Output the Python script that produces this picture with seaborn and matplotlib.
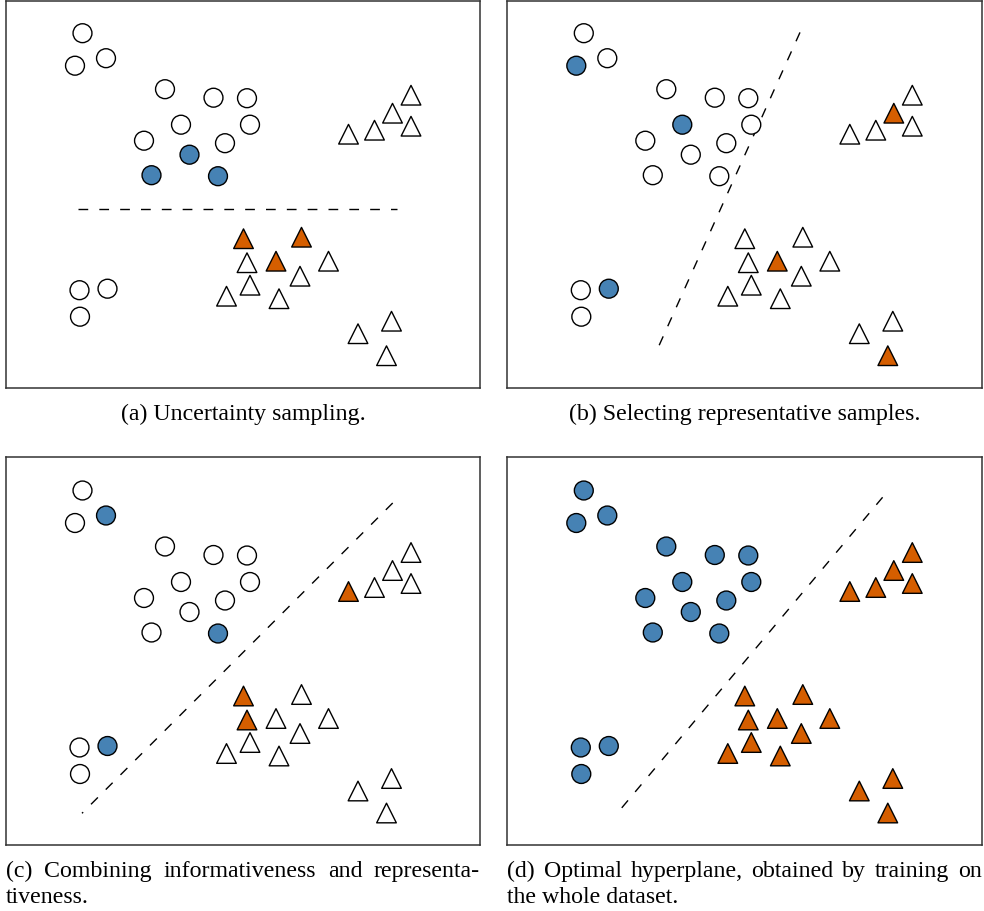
import pandas as pd
import matplotlib.pyplot as plt
import seaborn as sns

sns.set_style("white")
plt.rcParams['font.family'] = ['Liberation Serif', 'DejaVu Serif']
plt.rcParams['text.color'] = 'black'

# point positions (same in every panel)
circle_x = [76.5, 69, 100, 159, 207.5, 241, 175, 244, 138, 219, 183.5, 145.5, 212, 73.5, 101.5, 74]
circle_y = [354.5, 322, 329.5, 298.5, 290, 289.5, 263, 263, 247, 244.5, 233, 212.5, 211.5, 97.5, 99, 71]
tri_x = [405, 386.5, 405, 368.5, 342.5, 237.5, 295.5, 241, 270, 322.5, 294, 244, 220.5, 273, 385.5, 352, 380.5]
tri_y = [292.5, 274.5, 261.5, 257.5, 253.5, 149, 150.5, 125, 126.5, 126.5, 111.5, 102.5, 91.5, 89, 66.5, 54, 32]

# which points are labelled in each panel
labeled_circles = {'a': [10, 11, 12], 'b': [1, 6, 14], 'c': [2, 12, 14], 'd': list(range(16))}
labeled_tris = {'a': [5, 6, 8], 'b': [1, 8, 16], 'c': [4, 5, 7], 'd': list(range(17))}

# dashed decision boundaries (x0, y0, x1, y1)
boundaries = {
    'a': (71.7, 179, 391.3, 179),
    'b': (292.7, 355.3, 149.3, 36.7),
    'c': (386.7, 342, 76, 31.7),
    'd': (375.3, 347.7, 108.7, 30.3),
}

captions = {
    'a': ["(a) Uncertainty sampling."],
    'b': ["(b) Selecting representative samples."],
    'c': ["(c) Combining informativeness and representa-", "tiveness."],
    'd': ["(d) Optimal hyperplane, obtained by training on", "the whole dataset."],
}

W, H = 984, 911
fig = plt.figure(figsize=(W / 100, H / 100), dpi=100)

# axes boxes in pixels: left, top, right, bottom
boxes = {
    'a': (6, 0.7, 480, 387.7),
    'b': (507.3, 0.7, 981.7, 387.7),
    'c': (6, 457.3, 480, 845),
    'd': (507.3, 457.3, 981.7, 845),
}

palette = {'none': 'white', 'circle': '#4682b4', 'triangle': '#d55e00'}
FS = 17.2


def justified(words, x0, x1, y):
    r = fig.canvas.get_renderer()
    texts = [fig.text(0, y / H, w, fontsize=FS, va='baseline', ha='left',
                      transform=fig.transFigure) for w in words]
    widths = [t.get_window_extent(r).width for t in texts]
    gap = ((x1 - x0) - sum(widths)) / (len(words) - 1)
    pos = x0
    for t, w in zip(texts, widths):
        t.set_x(pos / W)
        pos += w + gap


for key in ['a', 'b', 'c', 'd']:
    l, t, r, b = boxes[key]
    ax = fig.add_axes([l / W, 1 - b / H, (r - l) / W, (b - t) / H])

    df = pd.DataFrame({
        'x': circle_x + tri_x,
        'y': circle_y + tri_y,
        'shape': ['circle'] * len(circle_x) + ['triangle'] * len(tri_x),
    })
    lab = ['circle' if i in labeled_circles[key] else 'none' for i in range(len(circle_x))]
    lab += ['triangle' if i in labeled_tris[key] else 'none' for i in range(len(tri_x))]
    df['label'] = lab

    circ = df[df['shape'] == 'circle']
    tri = df[df['shape'] == 'triangle']
    sns.scatterplot(data=circ, x='x', y='y', hue='label', palette=palette, marker='o',
                    s=185, edgecolor='black', linewidth=1.0, legend=False, ax=ax, zorder=3)
    sns.scatterplot(data=tri, x='x', y='y', hue='label', palette=palette, marker='^',
                    s=200, edgecolor='black', linewidth=1.0, legend=False, ax=ax, zorder=3)

    x0, y0, x1, y1 = boundaries[key]
    ax.plot([x0, x1], [y0, y1], color='black', lw=1.0, linestyle=(0, (7, 8)), zorder=2)

    ax.set_xlim(0, r - l)
    ax.set_ylim(0, b - t)
    ax.set_xticks([])
    ax.set_yticks([])
    ax.set_xlabel('')
    ax.set_ylabel('')
    for sp in ax.spines.values():
        sp.set_color('#333333')
        sp.set_linewidth(1.1)

    lines = captions[key]
    if len(lines) == 1:
        fig.text((l + r) / 2 / W, 1 - (b + 32.5) / H, lines[0], fontsize=FS,
                 ha='center', va='baseline')
    else:
        justified(lines[0].split(' '), l, r, H - (b + 32))
        fig.text(l / W, 1 - (b + 58) / H, lines[1], fontsize=FS, ha='left', va='baseline')

fig.savefig('out.png', dpi=100)
